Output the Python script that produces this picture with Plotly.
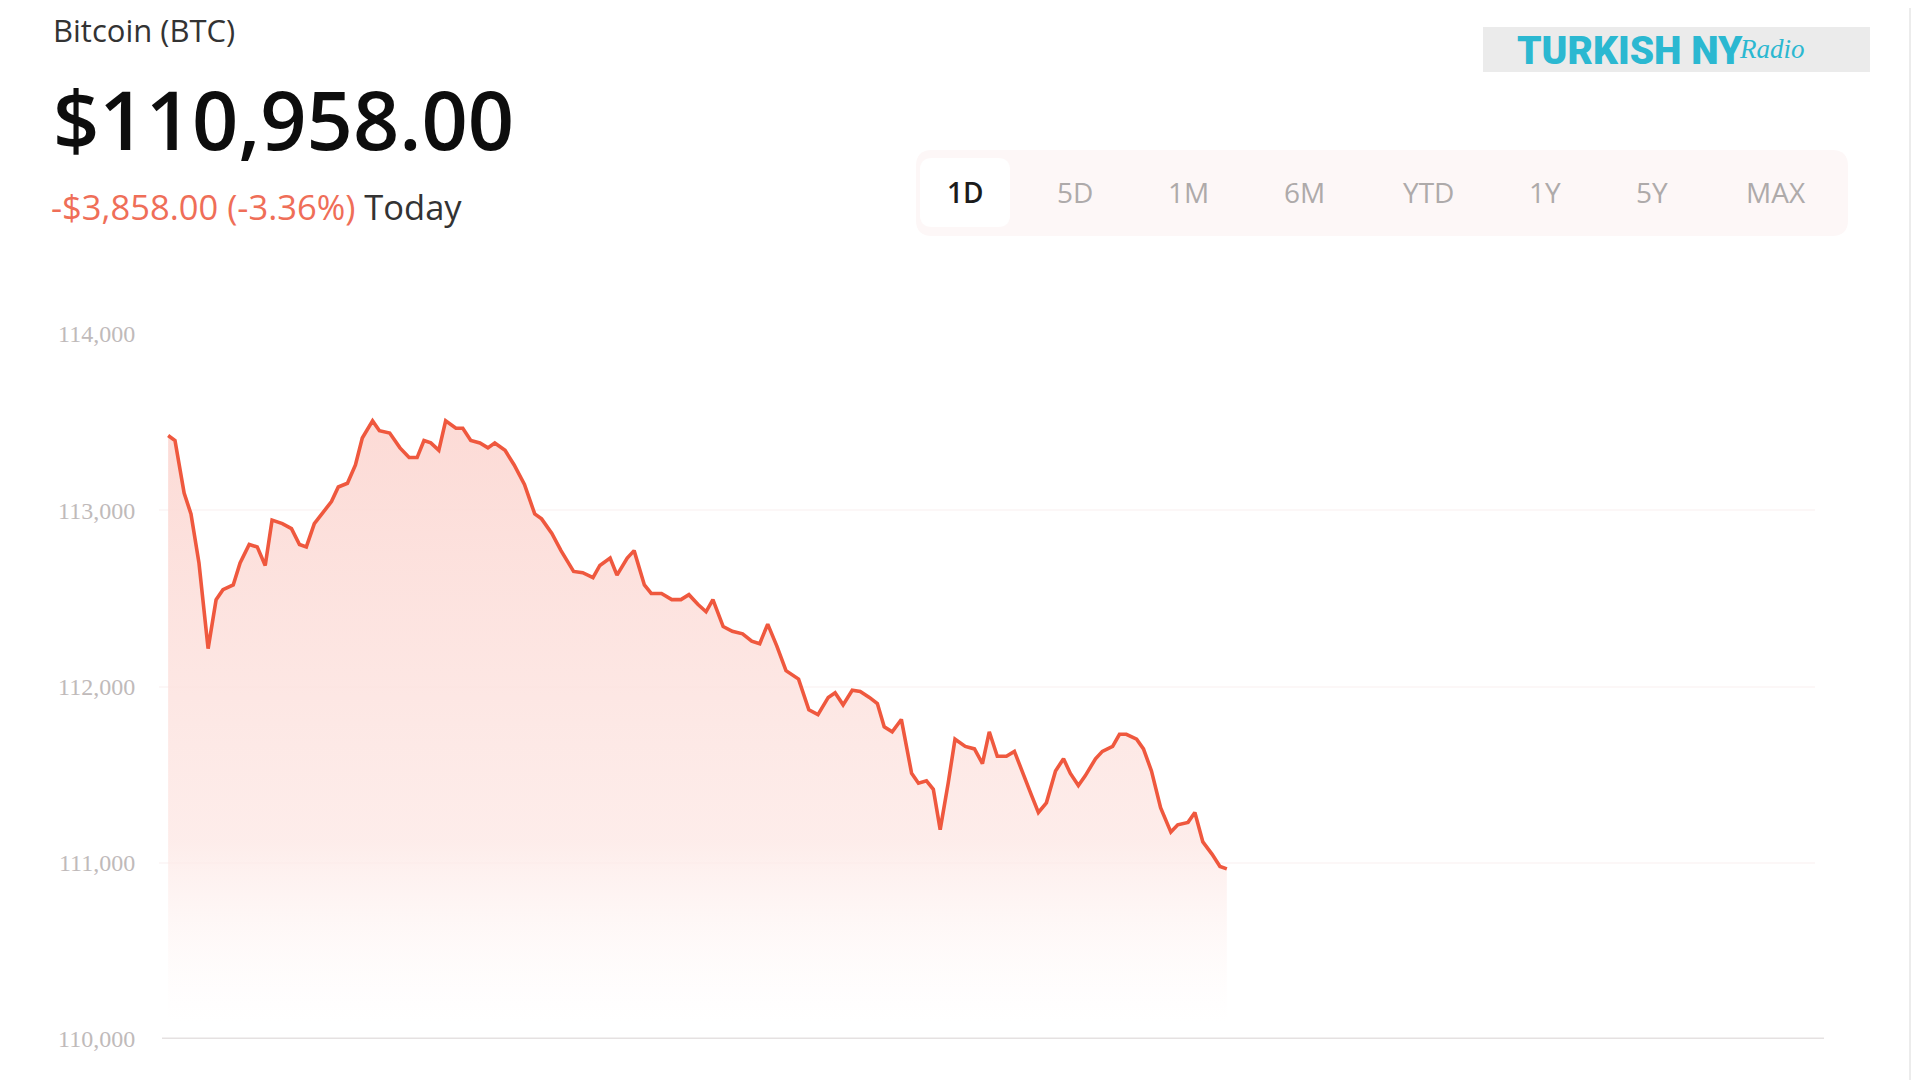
import plotly.graph_objects as go

# ---------------- data ----------------
minutes = [0, 6, 14, 20, 27, 35, 42, 48, 57, 63, 71, 78, 85, 91, 100, 108, 115, 121, 128, 136,
           143, 149, 157, 164, 170, 179, 185, 194, 203, 211, 218, 224, 230, 237, 243, 252, 258, 265,
           273, 280, 286, 295, 303, 312, 321, 327, 336, 344, 355, 363, 372, 378, 387, 393, 402, 408,
           417, 423, 432, 441, 449, 456, 464, 471, 477, 486, 494, 503, 511, 518, 525, 533, 541, 552,
           561, 569, 578, 584, 591, 599, 606, 614, 621, 627, 634, 642, 651, 657, 664, 670, 676, 683,
           689, 698, 706, 713, 719, 726, 734, 741, 749, 756, 762, 769, 777, 784, 790, 797, 803, 812,
           818, 827, 833, 839, 848, 854, 861, 869, 878, 884, 893, 899, 906, 914, 921, 927]
price = [113424, 113396, 113097, 112979, 112701, 112215, 112493, 112549, 112576, 112701, 112806,
         112792, 112687, 112944, 112924, 112896, 112806, 112792, 112924, 112993, 113049, 113132,
         113153, 113257, 113410, 113507, 113451, 113438, 113354, 113299, 113299, 113396, 113382,
         113340, 113507, 113465, 113465, 113396, 113382, 113354, 113382, 113340, 113257, 113146,
         112979, 112951, 112868, 112771, 112653, 112646, 112618, 112687, 112729, 112632, 112729,
         112771, 112576, 112528, 112528, 112493, 112493, 112521, 112465, 112424, 112493, 112340,
         112313, 112299, 112257, 112243, 112354, 112229, 112090, 112042, 111868, 111840, 111938,
         111965, 111896, 111979, 111972, 111938, 111903, 111771, 111743, 111813, 111507, 111451,
         111465, 111417, 111188, 111451, 111701, 111660, 111646, 111563, 111743, 111604, 111604,
         111632, 111493, 111382, 111285, 111340, 111521, 111590, 111507, 111438, 111493, 111590,
         111632, 111660, 111729, 111729, 111701, 111646, 111521, 111313, 111174, 111215, 111229,
         111285, 111118, 111049, 110979, 110965]

y_ticks = [110000, 111000, 112000, 113000, 114000]
ranges = ["1D", "5D", "1M", "6M", "YTD", "1Y", "5Y", "MAX"]
active_range = "1D"

asset_name = "Bitcoin (BTC)"
last_price = "$110,958.00"
change_text = "-$3,858.00 (-3.36%)"
change_suffix = "Today"

# ---------------- helpers ----------------
W, H = 1920, 1080
OFF = 8  # page body margin offset


def px(x):
    return (x - OFF) / W


def py(y):
    return 1 - (y - OFF) / H


def rounded_rect(x0, y0, x1, y1, r):
    pts = [
        f"M {px(x0 + r)},{py(y0)}",
        f"L {px(x1 - r)},{py(y0)}",
        f"Q {px(x1)},{py(y0)} {px(x1)},{py(y0 + r)}",
        f"L {px(x1)},{py(y1 - r)}",
        f"Q {px(x1)},{py(y1)} {px(x1 - r)},{py(y1)}",
        f"L {px(x0 + r)},{py(y1)}",
        f"Q {px(x0)},{py(y1)} {px(x0)},{py(y1 - r)}",
        f"L {px(x0)},{py(y0 + r)}",
        f"Q {px(x0)},{py(y0)} {px(x0 + r)},{py(y0)}",
        "Z",
    ]
    return " ".join(pts)


line_color = "rgb(239,88,62)"

fig = go.Figure()
fig.add_trace(go.Scatter(
    x=minutes, y=price, mode="lines",
    line=dict(color=line_color, width=3.6, shape="linear"),
    fill="tozeroy",
    fillgradient=dict(
        type="vertical",
        start=110100, stop=113500,
        colorscale=[[0, "rgba(254,244,243,0.0)"],
                    [0.3, "rgba(253,232,229,0.8)"],
                    [1, "rgba(252,217,212,0.95)"]],
    ),
    hoverinfo="skip",
    showlegend=False,
))

shapes = []
shapes.append(dict(type="path", xref="paper", yref="paper",
                   path=rounded_rect(916, 150, 1848, 236, 16),
                   fillcolor="#fdf7f7", line=dict(width=0), layer="below"))
shapes.append(dict(type="path", xref="paper", yref="paper",
                   path=rounded_rect(920, 158, 1010, 227, 12),
                   fillcolor="#ffffff", line=dict(width=0), layer="below"))
shapes.append(dict(type="rect", xref="paper", yref="paper",
                   x0=px(1483), x1=px(1870), y0=py(72), y1=py(27),
                   fillcolor="#ebebeb", line=dict(width=0), layer="below"))
shapes.append(dict(type="line", xref="paper", yref="y",
                   x0=px(162), x1=px(1824), y0=110000, y1=110000,
                   line=dict(color="#e5e1e1", width=3), layer="above"))
shapes.append(dict(type="line", xref="paper", yref="paper",
                   x0=px(1910), x1=px(1910), y0=0, y1=1,
                   line=dict(color="#ececec", width=2)))

annotations = []
annotations.append(dict(x=px(51), y=py(30), xref="paper", yref="paper",
                        text=asset_name, showarrow=False, xanchor="left", yanchor="middle",
                        font=dict(family="Open Sans", size=31, color="#333333")))
annotations.append(dict(x=px(51), y=py(119), xref="paper", yref="paper",
                        text=last_price, showarrow=False, xanchor="left", yanchor="middle",
                        font=dict(family="Open Sans", size=81, color="#0d0d0d", weight=600)))
annotations.append(dict(x=px(49), y=py(207), xref="paper", yref="paper",
                        text=f"<span style='color:#ef6e58'>{change_text}</span> {change_suffix}",
                        showarrow=False, xanchor="left", yanchor="middle",
                        font=dict(family="Open Sans", size=34.5, color="#333333")))

btn_centers = [965, 1075, 1188, 1304, 1428, 1545, 1652, 1776]
for lab, cx in zip(ranges, btn_centers):
    act = lab == active_range
    annotations.append(dict(x=px(cx), y=py(192), xref="paper", yref="paper",
                            text=lab, showarrow=False, xanchor="center", yanchor="middle",
                            font=dict(family="Open Sans", size=28,
                                      color="#1b1b1b" if act else "#aeaaaa",
                                      weight=600 if act else 400)))

annotations.append(dict(x=px(1515), y=py(51), xref="paper", yref="paper",
                        text="TURKISH NY", showarrow=False, xanchor="left", yanchor="middle",
                        font=dict(family="Roboto", size=39, color="#2bb8d1", weight=900)))
annotations.append(dict(x=px(1737), y=py(49), xref="paper", yref="paper",
                        text="Radio", showarrow=False, xanchor="left", yanchor="middle",
                        font=dict(family="Liberation Serif", size=27, color="#2bb8d1",
                                  style="italic")))

fig.update_layout(
    width=W, height=H,
    margin=dict(l=0, r=0, t=0, b=0, pad=0, autoexpand=False),
    paper_bgcolor="#ffffff",
    plot_bgcolor="rgba(0,0,0,0)",
    shapes=shapes,
    annotations=annotations,
    xaxis=dict(domain=[px(159), px(1815)], range=[-8, 1442], automargin=False,
               showgrid=False, zeroline=False, showticklabels=False, showline=False,
               fixedrange=True),
    yaxis=dict(domain=[py(1039), py(334)], range=[110000, 114000], automargin=False,
               tickvals=y_ticks, tickformat=",",
               showgrid=True, gridcolor="#fcf7f7", gridwidth=2,
               zeroline=False, showline=False,
               ticks="outside", ticklen=18, tickcolor="rgba(0,0,0,0)",
               tickfont=dict(family="Liberation Serif", size=24, color="#c0baba"),
               fixedrange=True),
)

fig.write_html("out.html")
